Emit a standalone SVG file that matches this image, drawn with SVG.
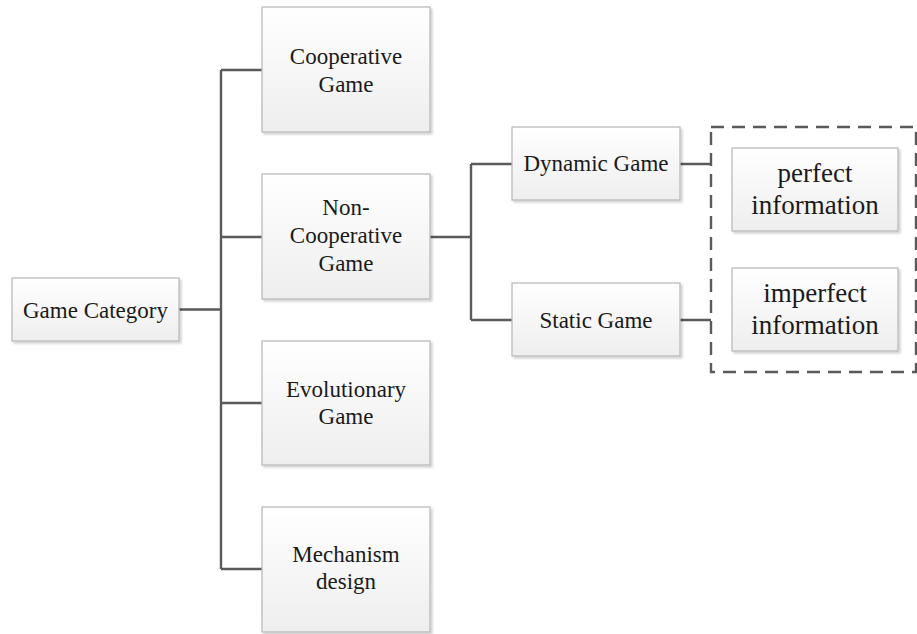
<svg xmlns="http://www.w3.org/2000/svg" width="917" height="634" viewBox="0 0 917 634">
  <defs>
    <linearGradient id="boxFill" x1="0" y1="0" x2="0" y2="1">
      <stop offset="0" stop-color="#ffffff"/>
      <stop offset="1" stop-color="#eeeeee"/>
    </linearGradient>
    <filter id="shadow" x="-10%" y="-10%" width="125%" height="130%">
      <feGaussianBlur in="SourceAlpha" stdDeviation="1"/>
      <feOffset dx="2" dy="2" result="b"/>
      <feComponentTransfer><feFuncA type="linear" slope="0.18"/></feComponentTransfer>
      <feMerge><feMergeNode/><feMergeNode in="SourceGraphic"/></feMerge>
    </filter>
  </defs>
  <style>
    .box { fill: url(#boxFill); stroke: #bababa; stroke-width: 1.3; filter: url(#shadow); }
    .lbl { font-family: "Liberation Serif", "Times New Roman", serif; font-size: 23px; fill: #1a1a1a; text-anchor: middle; }
    .big { font-size: 27px; }
    .wire { fill: none; stroke: #5a5a5a; stroke-width: 2.4; }
    .group { fill: none; stroke: #5a5a5a; stroke-width: 2.4; stroke-dasharray: 13 8; }
  </style>
  <rect width="917" height="634" fill="#ffffff"/>

  <!-- tree connectors -->
  <g id="connectors">
    <path class="wire" d="M179,309.5 H221"/>
    <path class="wire" d="M221,70 V569"/>
    <path class="wire" d="M221,70 H262 M221,237 H262 M221,403 H262 M221,569 H262"/>
    <path class="wire" d="M430,237 H471 M471,164 V320 M471,164 H512 M471,320 H512"/>
    <path class="wire" d="M680,164 H711 M680,320 H711"/>
  </g>

  <g id="game-category">
    <rect class="box" x="12" y="278" width="167" height="63"/>
    <text class="lbl" x="95.5" y="318">Game Category</text>
  </g>

  <g id="cooperative-game">
    <rect class="box" x="262" y="7" width="168" height="125"/>
    <text class="lbl" x="346" y="64">Cooperative</text>
    <text class="lbl" x="346" y="92">Game</text>
  </g>

  <g id="non-cooperative-game">
    <rect class="box" x="262" y="174" width="168" height="125"/>
    <text class="lbl" x="346" y="215">Non-</text>
    <text class="lbl" x="346" y="243">Cooperative</text>
    <text class="lbl" x="346" y="271">Game</text>
  </g>

  <g id="evolutionary-game">
    <rect class="box" x="262" y="341" width="168" height="124"/>
    <text class="lbl" x="346" y="397">Evolutionary</text>
    <text class="lbl" x="346" y="424">Game</text>
  </g>

  <g id="mechanism-design">
    <rect class="box" x="262" y="507" width="168" height="125"/>
    <text class="lbl" x="346" y="562">Mechanism</text>
    <text class="lbl" x="346" y="589">design</text>
  </g>

  <g id="dynamic-game">
    <rect class="box" x="512" y="127" width="168" height="73"/>
    <text class="lbl" x="596" y="171">Dynamic Game</text>
  </g>

  <g id="static-game">
    <rect class="box" x="512" y="283" width="168" height="73"/>
    <text class="lbl" x="596" y="328">Static Game</text>
  </g>

  <g id="information-group">
    <rect class="group" x="711" y="127" width="205" height="245"/>
  </g>

  <g id="perfect-information">
    <rect class="box" x="732" y="148" width="166" height="83"/>
    <text class="lbl big" x="815" y="182">perfect</text>
    <text class="lbl big" x="815" y="214">information</text>
  </g>

  <g id="imperfect-information">
    <rect class="box" x="732" y="268" width="166" height="83"/>
    <text class="lbl big" x="815" y="302">imperfect</text>
    <text class="lbl big" x="815" y="334">information</text>
  </g>
</svg>
